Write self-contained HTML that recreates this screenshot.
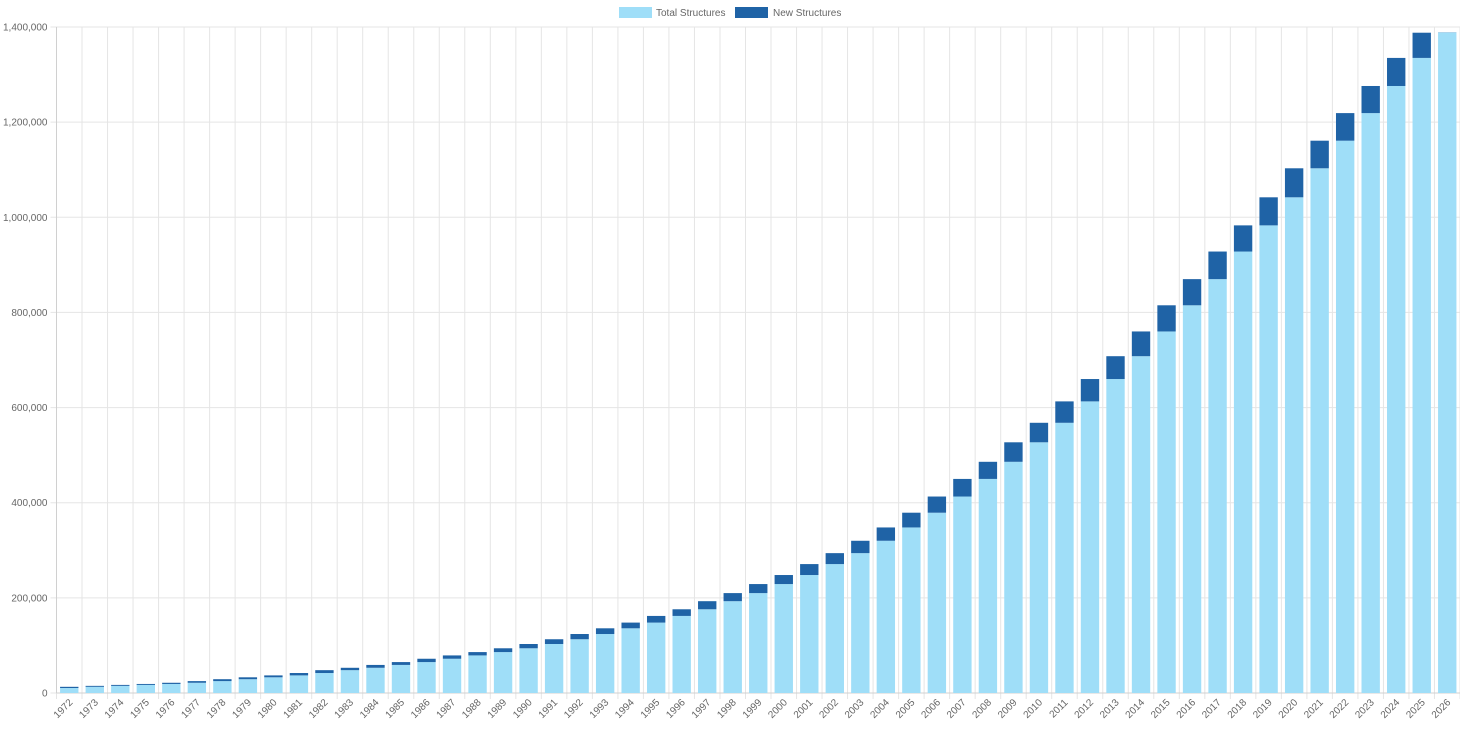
<!DOCTYPE html>
<html><head><meta charset="utf-8"><style>
html,body{margin:0;padding:0;background:#fff;}
svg{display:block;font-family:"Liberation Sans",Arial,sans-serif;}
</style></head><body>
<svg id="c" width="1460" height="729" xmlns="http://www.w3.org/2000/svg"></svg>
<script>
var tot=[10500,13000,15000,17000,19000,21500,25000,29000,33000,37000,42000,48000,53000,59000,65000,72000,79000,86000,94000,103000,113000,124000,136000,148000,162000,176000,193000,210000,229000,248000,271000,294000,320000,348000,379000,413000,450000,486000,527000,568000,613000,660000,708000,760000,815000,870000,928000,983000,1042000,1103000,1161000,1219000,1276000,1335000,1388000];
var L=56.5,R=1460,T=27,B=693,n=tot.length,cw=(R-L)/n,k=(B-T)/1400000;
var s='';
for(var i=0;i<=7;i++){var y=B-i*200000*k;s+='<line x1="'+(L-6)+'" x2="'+R+'" y1="'+y+'" y2="'+y+'" stroke="#e5e5e5"/>';
s+='<text x="'+(L-9)+'" y="'+(y+3.5)+'" font-size="10" fill="#666" text-anchor="end">'+(i*200000).toLocaleString('en-US')+'</text>';}
for(var i=0;i<=n;i++){var x=L+i*cw;s+='<line x1="'+x+'" x2="'+x+'" y1="'+T+'" y2="'+(B+6)+'" stroke="#e5e5e5"/>';}
s+='<line x1="'+L+'" x2="'+L+'" y1="'+T+'" y2="'+B+'" stroke="#d0d0d0"/>';
s+='<line x1="'+L+'" x2="'+R+'" y1="'+B+'" y2="'+B+'" stroke="#d0d0d0"/>';
var bw=cw*0.72;
for(var i=0;i<n;i++){
 var cx=L+(i+0.5)*cw,x=cx-bw/2;
 var t=tot[i],nw=(i<n-1?tot[i+1]-t:1000);
 var y1=B-t*k,y2=B-(t+nw)*k;
 s+='<rect x="'+x+'" y="'+y1+'" width="'+bw+'" height="'+(B-y1)+'" fill="#9fdef8"/>';
 s+='<rect x="'+x+'" y="'+y2+'" width="'+bw+'" height="'+(y1-y2)+'" fill="'+(i<n-1?'#1f63a6':'#7ab3d9')+'"/>';
 s+='<text transform="translate('+(cx+4)+','+(B+10)+') rotate(-45)" font-size="10" fill="#666" text-anchor="end">'+(1972+i)+'</text>';
}
s+='<rect x="619" y="7" width="33" height="11" fill="#9fdef8"/><text x="656" y="16" font-size="10" fill="#666">Total Structures</text>';
s+='<rect x="735" y="7" width="33" height="11" fill="#1f63a6"/><text x="773" y="16" font-size="10" fill="#666">New Structures</text>';
document.getElementById('c').innerHTML=s;
</script>
</body></html>
